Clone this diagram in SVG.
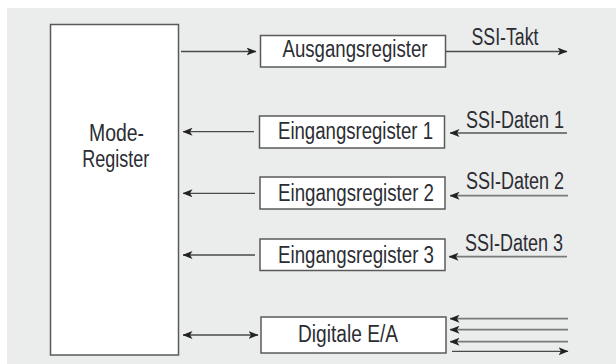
<svg xmlns="http://www.w3.org/2000/svg" width="616" height="364" viewBox="0 0 616 364">
<style>
.bg{fill:#ebecec}
.box{fill:#ffffff;stroke:#5a5a5a;stroke-width:1.5}
.t{font-family:"Liberation Sans",Arial,sans-serif;font-size:23px;fill:#2b2d33;text-anchor:middle}
.ln{fill:none;stroke:#4a4a4a;stroke-width:1.3}
.lin{fill:none;stroke:#7a7a7a;stroke-width:1.8}
</style>
<defs>
<marker id="ah" viewBox="0 0 10 8" refX="9.5" refY="4" markerWidth="10" markerHeight="8" markerUnits="userSpaceOnUse" orient="auto-start-reverse">
<path d="M0,0 L10,4 L0,8 L2.5,4 z" fill="#222"/>
</marker>
</defs>
<rect class="bg" x="7" y="8" width="609" height="356"/>
<g id="mode-register">
<rect class="box" x="50.5" y="24.5" width="128" height="330.5"/>
<text class="t" x="116.5" y="140.7" font-size="24" textLength="55" lengthAdjust="spacingAndGlyphs">Mode-</text>
<text class="t" x="115.7" y="166.7" font-size="24" textLength="67" lengthAdjust="spacingAndGlyphs">Register</text>
</g>
<g id="ausgangsregister">
<rect class="box" x="260.5" y="35.5" width="185" height="31.5"/>
<text class="t" x="355" y="57" textLength="145" lengthAdjust="spacingAndGlyphs">Ausgangsregister</text>
</g>
<g id="eingangsregister1">
<rect class="box" x="259.5" y="116" width="185" height="32"/>
<text class="t" x="355.5" y="139" textLength="155" lengthAdjust="spacingAndGlyphs">Eingangsregister 1</text>
</g>
<g id="eingangsregister2">
<rect class="box" x="260" y="177" width="185" height="32"/>
<text class="t" x="356" y="200.7" textLength="156" lengthAdjust="spacingAndGlyphs">Eingangsregister 2</text>
</g>
<g id="eingangsregister3">
<rect class="box" x="260" y="239" width="185" height="31.5"/>
<text class="t" x="356" y="262.5" textLength="156" lengthAdjust="spacingAndGlyphs">Eingangsregister 3</text>
</g>
<g id="digitale-ea">
<rect class="box" x="261" y="317" width="185" height="36"/>
<text class="t" x="348" y="341.7" textLength="100" lengthAdjust="spacingAndGlyphs">Digitale E/A</text>
</g>
<g id="labels">
<text class="t" x="505" y="45" textLength="67" lengthAdjust="spacingAndGlyphs">SSI-Takt</text>
<text class="t" x="515" y="127.7" textLength="98" lengthAdjust="spacingAndGlyphs">SSI-Daten 1</text>
<text class="t" x="515" y="189" textLength="98" lengthAdjust="spacingAndGlyphs">SSI-Daten 2</text>
<text class="t" x="514" y="250.7" textLength="98" lengthAdjust="spacingAndGlyphs">SSI-Daten 3</text>
</g>
<g id="connectors">
<line class="ln" x1="181" y1="51.5" x2="256" y2="51.5" marker-end="url(#ah)"/>
<line class="ln" x1="446" y1="51.5" x2="567" y2="51.5" marker-end="url(#ah)"/>
<line class="ln" x1="254" y1="131.7" x2="183" y2="131.7" marker-end="url(#ah)"/>
<line class="lin" x1="567" y1="133" x2="450" y2="133" marker-end="url(#ah)"/>
<line class="ln" x1="255" y1="193.3" x2="183" y2="193.3" marker-end="url(#ah)"/>
<line class="lin" x1="568" y1="195.7" x2="450" y2="195.7" marker-end="url(#ah)"/>
<line class="ln" x1="255" y1="255" x2="183" y2="255" marker-end="url(#ah)"/>
<line class="lin" x1="567" y1="256.7" x2="449" y2="256.7" marker-end="url(#ah)"/>
<line class="ln" x1="183" y1="335" x2="258" y2="335" marker-start="url(#ah)" marker-end="url(#ah)"/>
<line class="lin" x1="568" y1="318.7" x2="450" y2="318.7" marker-end="url(#ah)"/>
<line class="lin" x1="568" y1="329.7" x2="450" y2="329.7" marker-end="url(#ah)"/>
<line class="lin" x1="568" y1="341.7" x2="450" y2="341.7" marker-end="url(#ah)"/>
<line class="ln" x1="452" y1="351.3" x2="568" y2="351.3" marker-end="url(#ah)"/>
</g>
</svg>
